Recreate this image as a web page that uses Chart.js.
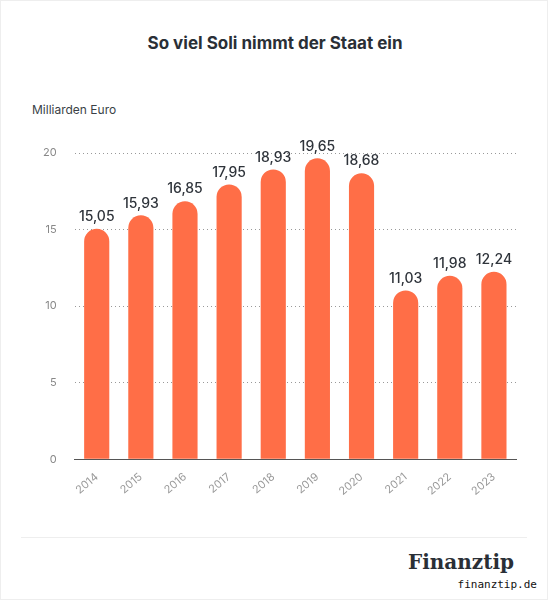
<!DOCTYPE html>
<html><head><meta charset="utf-8">
<script src="https://cdn.jsdelivr.net/npm/chart.js@4"></script>
<style>
body{margin:0;background:#fff;font-family:Inter,sans-serif;}
#wrap{position:absolute;left:0;top:0;width:546px;height:598px;border:1px solid #eee;}
#title{position:absolute;top:32px;width:548px;text-align:center;font-size:17px;font-weight:700;color:#2a2f36;}
#unit{position:absolute;top:101px;left:31px;font-size:12px;color:#3a3f46;}
#line{position:absolute;left:20px;right:20px;top:536px;border-top:1px solid #eee;}
#logo{position:absolute;right:33px;top:549px;font-family:"DejaVu Serif",serif;font-weight:700;font-size:20px;color:#2a2f36;}
#url{position:absolute;right:10px;top:577px;font-family:"DejaVu Sans Mono",monospace;font-size:11px;color:#111;}
canvas{position:absolute;left:0;top:0;}
</style></head><body>
<div id="wrap">
<div id="title">So viel Soli nimmt der Staat ein</div>
<div id="unit">Milliarden Euro</div>
<div id="line"></div>
<div id="logo">Finanztip</div>
<div id="url">finanztip.de</div>
<canvas id="c" width="548" height="600"></canvas>
</div>
<script>
const categories=["2014","2015","2016","2017","2018","2019","2020","2021","2022","2023"];
const values=[15.05,15.93,16.85,17.95,18.93,19.65,18.68,11.03,11.98,12.24];
const yTicks=[0,5,10,15,20];
const fmt=v=>v.toFixed(2).replace('.',',');
const labelPlugin={id:'lbl',afterDatasetsDraw(ch){const c=ch.ctx;const m=ch.getDatasetMeta(0);c.save();c.font='500 14px Inter';c.fillStyle='#2f343b';c.textAlign='center';c.textBaseline='bottom';m.data.forEach((b,i)=>c.fillText(fmt(values[i]),b.x,b.y-5));c.restore();}};
new Chart(document.getElementById('c'),{type:'bar',
data:{labels:categories,datasets:[{data:values,backgroundColor:'#ff6e47',borderRadius:{topLeft:13,topRight:13},borderSkipped:'bottom',barPercentage:0.57,categoryPercentage:1}]},
options:{responsive:false,animation:false,devicePixelRatio:1,
layout:{padding:{top:152,left:24,right:33,bottom:100}},
plugins:{legend:{display:false},tooltip:{enabled:false}},
scales:{y:{min:0,max:20,afterBuildTicks:s=>{s.ticks=yTicks.map(v=>({value:v}));},
border:{display:false},grid:{color:(c)=>c.tick&&c.tick.value===0?'rgba(0,0,0,0)':'#999',lineWidth:1,tickLength:0,drawTicks:false},
ticks:{color:'#888',font:{size:11,family:'Inter'},padding:18}},
x:{border:{color:'#555'},grid:{display:false},ticks:{color:'#999',font:{size:11,family:'Inter'},maxRotation:40,minRotation:40}}}},
plugins:[labelPlugin,{id:'dash',beforeDraw(ch){ch.scales.y.options.border.dash=[1,3];}}]
});
</script></body></html>
